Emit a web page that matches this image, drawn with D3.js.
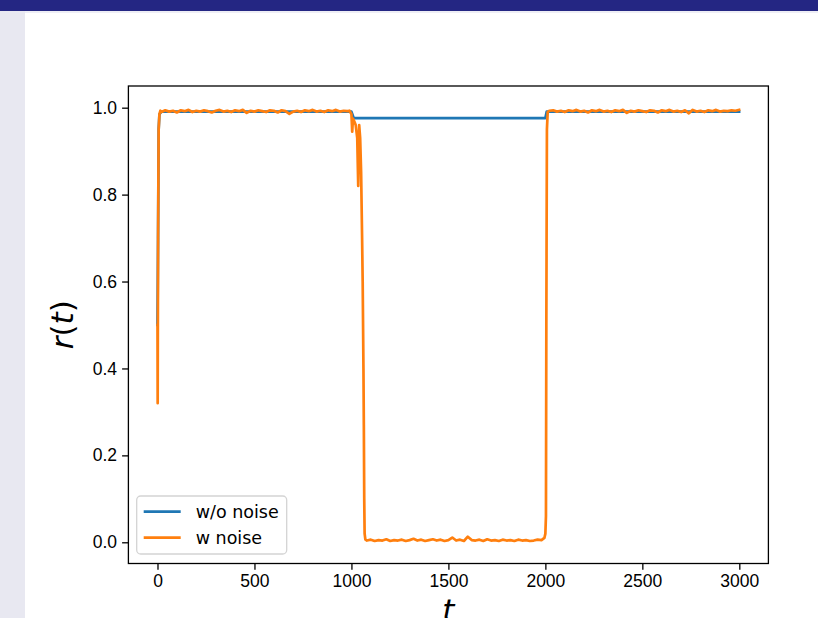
<!DOCTYPE html>
<html>
  <head>
    <meta charset="utf-8">
    <title>r(t) with and without noise</title>
    <script src="https://d3js.org/d3.v7.min.js"></script>
    <style>
      body { margin: 0; background: #fff; }
      svg { display: block; font-family: "DejaVu Sans", sans-serif; }
      .tick text { font-size: 17.5px; fill: #000; }
      .tick line { stroke: #000; stroke-width: 1.3px; }
    </style>
  </head>
  <body>
    <svg id="chart" width="818" height="618"></svg>
    <script>
      // data
      const xTicks = [0, 500, 1000, 1500, 2000, 2500, 3000];
      const yTicks = [0.0, 0.2, 0.4, 0.6, 0.8, 1.0];
      const seriesNames = ["w/o noise", "w noise"];
      const seriesColors = ["#1f77b4", "#ff7f0e"];

      // w/o noise
      const tClean = [0, 3, 6, 10, 20, 1000, 1012, 2000, 2007, 2999];
      const rClean = [0.50, 0.70, 0.95, 0.985, 0.991, 0.991, 0.976, 0.976, 0.991, 0.991];

      // w noise
      const tNoisy = [
        0, 1, 3, 6, 10, 15, 20,
        40, 60, 80, 100, 120, 140, 160, 180, 200, 220, 240, 260, 280, 300,
        320, 340, 360, 380, 400, 420, 440, 460, 480, 500, 520, 540, 560, 580,
        600, 620, 640, 660, 680, 700, 720, 740, 760, 780, 800, 820, 840, 860,
        880, 900, 920, 940, 960, 980, 990,
        1000, 1004, 1008, 1015, 1022, 1030, 1035, 1040, 1045, 1050, 1055, 1058,
        1062, 1064, 1066, 1068, 1072, 1080,
        1100, 1120, 1140, 1160, 1180, 1200, 1220, 1240, 1260, 1280, 1300, 1320,
        1340, 1360, 1380, 1400, 1420, 1440, 1460, 1480, 1500, 1520, 1540, 1560,
        1580, 1600, 1620, 1640, 1660, 1680, 1700, 1720, 1740, 1760, 1780, 1800,
        1820, 1840, 1860, 1880, 1900, 1920, 1940, 1960, 1980, 1995,
        2000, 2003, 2005, 2008, 2012, 2020,
        2040, 2060, 2080, 2100, 2120, 2140, 2160, 2180, 2200, 2220, 2240, 2260,
        2280, 2300, 2320, 2340, 2360, 2380, 2400, 2420, 2440, 2460, 2480, 2500,
        2520, 2540, 2560, 2580, 2600, 2620, 2640, 2660, 2680, 2700, 2720, 2740,
        2760, 2780, 2800, 2820, 2840, 2860, 2880, 2900, 2920, 2940, 2960, 2980, 2999
      ];
      const rNoisy = [
        0.50, 0.32, 0.70, 0.95, 0.985, 0.993, 0.990,
        0.994, 0.991, 0.993, 0.989, 0.994, 0.992, 0.995, 0.990, 0.993, 0.991, 0.994, 0.992, 0.989, 0.993,
        0.995, 0.991, 0.993, 0.990, 0.994, 0.992, 0.995, 0.988, 0.993, 0.991, 0.994, 0.992, 0.990, 0.994,
        0.993, 0.989, 0.994, 0.992, 0.986, 0.991, 0.993, 0.990, 0.994, 0.992, 0.995, 0.991, 0.993, 0.990,
        0.994, 0.992, 0.995, 0.991, 0.993, 0.992, 0.993,
        0.985, 0.945, 0.975, 0.968, 0.960, 0.930, 0.820, 0.960, 0.930, 0.850, 0.700, 0.600,
        0.400, 0.270, 0.100, 0.020, 0.006, 0.004,
        0.006, 0.003, 0.005, 0.004, 0.007, 0.003, 0.005, 0.004, 0.006, 0.003, 0.005, 0.008,
        0.004, 0.006, 0.003, 0.005, 0.007, 0.004, 0.006, 0.003, 0.005, 0.011, 0.004, 0.006,
        0.003, 0.013, 0.005, 0.004, 0.006, 0.003, 0.007, 0.004, 0.005, 0.003, 0.006, 0.004,
        0.005, 0.003, 0.006, 0.004, 0.005, 0.003, 0.004, 0.006, 0.005, 0.010,
        0.020, 0.060, 0.500, 0.950, 0.990, 0.993,
        0.994, 0.991, 0.993, 0.990, 0.994, 0.992, 0.995, 0.991, 0.993, 0.989, 0.994, 0.992,
        0.995, 0.991, 0.993, 0.990, 0.994, 0.992, 0.995, 0.988, 0.993, 0.991, 0.994, 0.992,
        0.990, 0.994, 0.993, 0.989, 0.994, 0.992, 0.995, 0.991, 0.993, 0.990, 0.994, 0.987,
        0.995, 0.991, 0.993, 0.990, 0.994, 0.992, 0.995, 0.991, 0.993, 0.992, 0.994, 0.993, 0.995
      ];

      const chart = d3.select("#chart");

      // slide chrome
      chart.append("rect").attr("x", 0).attr("y", 0).attr("width", 818).attr("height", 618).attr("fill", "#fff");
      chart.append("rect").attr("x", 0).attr("y", 11).attr("width", 818).attr("height", 2).attr("fill", "#eeeef5");
      chart.append("rect").attr("x", 0).attr("y", 11).attr("width", 25).attr("height", 607).attr("fill", "#e8e8f1");
      chart.append("rect").attr("x", 0).attr("y", 0).attr("width", 818).attr("height", 11).attr("fill", "#242683");

      // scales
      const margin = { left: 128.4, right: 768.4, top: 86, bottom: 563.5 };
      const x = d3.scaleLinear().domain([-150, 3150]).range([margin.left, margin.right]);
      const y = d3.scaleLinear().domain([-0.0488, 1.0499]).range([margin.bottom, margin.top]);

      const xAxis = d3.axisBottom(x)
        .tickValues(xTicks)
        .tickFormat(d3.format("d"))
        .tickSizeOuter(0)
        .tickSizeInner(6.3)
        .tickPadding(5);
      const yAxis = d3.axisLeft(y)
        .tickValues(yTicks)
        .tickFormat(d3.format(".1f"))
        .tickSizeOuter(0)
        .tickSizeInner(6.3)
        .tickPadding(5);

      // lines
      const line = d3.line()
        .x(function(d) { return x(d[0]); })
        .y(function(d) { return y(d[1]); });
      const series = [
        d3.zip(tClean, rClean),
        d3.zip(tNoisy, rNoisy)
      ];
      chart.append("g")
        .selectAll("path")
          .data(series)
        .enter().append("path")
          .attr("d", line)
          .attr("fill", "none")
          .attr("stroke", function(d, i) { return seriesColors[i]; })
          .attr("stroke-width", 2.7)
          .attr("stroke-linejoin", "round")
          .attr("stroke-linecap", "square");

      // axes
      chart.append("g")
        .attr("transform", "translate(0," + margin.bottom + ")")
        .call(xAxis)
        .call(function(g) { g.select(".domain").remove(); });
      chart.append("g")
        .attr("transform", "translate(" + margin.left + ",0)")
        .call(yAxis)
        .call(function(g) { g.select(".domain").remove(); });
      chart.append("rect")
        .attr("x", margin.left)
        .attr("y", margin.top)
        .attr("width", margin.right - margin.left)
        .attr("height", margin.bottom - margin.top)
        .attr("fill", "none")
        .attr("stroke", "#000")
        .attr("stroke-width", 1.3);

      // axis labels
      chart.append("text")
        .attr("transform", "translate(73," + (margin.top + margin.bottom) / 2 + ") rotate(-90)")
        .attr("text-anchor", "middle")
        .style("font-size", "31px")
        .html('<tspan font-style="italic">r</tspan>(<tspan font-style="italic">t</tspan>)');
      chart.append("text")
        .attr("x", (margin.left + margin.right) / 2)
        .attr("y", 621)
        .attr("text-anchor", "middle")
        .style("font-size", "31px")
        .style("font-style", "italic")
        .text("t");

      // legend
      const legend = chart.append("g").attr("transform", "translate(136.7,496)");
      legend.append("rect")
        .attr("width", 150)
        .attr("height", 58)
        .attr("rx", 4)
        .attr("fill", "#fff")
        .attr("fill-opacity", 0.8)
        .attr("stroke", "#d4d4d4")
        .attr("stroke-width", 1.3);
      const items = legend.selectAll(".item")
          .data(seriesNames)
        .enter().append("g")
          .attr("transform", function(d, i) { return "translate(0," + (15.7 + i * 26) + ")"; });
      items.append("line")
        .attr("x1", 7).attr("x2", 44)
        .attr("stroke", function(d, i) { return seriesColors[i]; })
        .attr("stroke-width", 2.7);
      items.append("text")
        .attr("x", 59)
        .attr("dy", "0.35em")
        .style("font-size", "17.5px")
        .text(function(d) { return d; });
    </script>
  </body>
</html>
